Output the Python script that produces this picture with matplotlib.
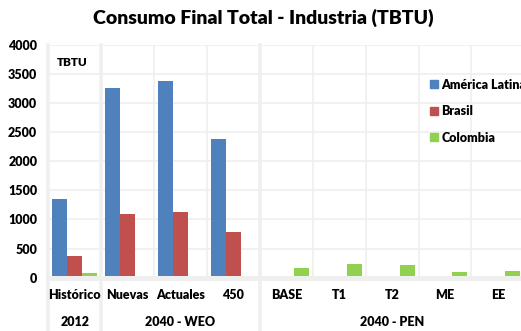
import numpy as np
import matplotlib.pyplot as plt
from matplotlib.patches import Patch

plt.rcParams['font.family'] = ['Lato', 'DejaVu Sans']
plt.rcParams['font.weight'] = 'heavy'

# escenarios y grupos del eje x
categorias = ['Histórico', 'Nuevas', 'Actuales', '450', 'BASE', 'T1', 'T2', 'ME', 'EE']
grupos = ['2012', '2040 - WEO', '2040 - PEN']
grupo_tam = [1, 3, 5]

# consumo final industria (TBTU)
america_latina = [1360, 3270, 3390, 2380, 0, 0, 0, 0, 0]
brasil = [365, 1100, 1130, 790, 0, 0, 0, 0, 0]
colombia = [85, 0, 0, 0, 160, 230, 215, 100, 115]

series = [('América Latina', america_latina, '#4F81BD'),
          ('Brasil', brasil, '#C0504D'),
          ('Colombia', colombia, '#92D050')]

gris = '#efefef'

fig = plt.figure(figsize=(5.21, 3.31), dpi=100)
ax = fig.add_axes([48.3/521, 53.4/331, 476/521, 232.5/331])

x = np.arange(len(categorias))
w = 0.284
for k, (nombre, vals, col) in enumerate(series):
    ax.bar(x + (k - 1)*w, vals, w, color=col, zorder=2)

ax.set_xlim(-0.5, len(categorias) - 0.5)
ax.set_ylim(0, 4000)
ax.set_yticks(np.arange(0, 4001, 500))
ax.tick_params(axis='y', length=0, pad=8, labelsize=9)
ax.set_xticks([])
for s in ax.spines.values():
    s.set_visible(False)

# rejilla
for yv in np.arange(500, 4001, 500):
    ax.axhline(yv, color=gris, lw=1.2, zorder=1)
for xv in np.arange(0.5, len(categorias) - 0.5, 1):
    ax.axvline(xv, color=gris, lw=1.2, zorder=1)

# eje horizontal y separadores de grupo
ax.axhline(0, color=gris, lw=3.6, zorder=3, clip_on=False)
bordes = np.concatenate([[0], np.cumsum(grupo_tam)]) - 0.5
for b in bordes[:-1]:
    ax.plot([b, b], [1, -0.23], color=gris, lw=2.6, transform=ax.get_xaxis_transform(),
            clip_on=False, zorder=3)

# etiquetas de categoria y de grupo
for i, c in enumerate(categorias):
    ax.text(i, -0.075, c, transform=ax.get_xaxis_transform(), ha='center', va='center',
            fontsize=9)
for g, a, b in zip(grupos, bordes[:-1], bordes[1:]):
    ax.text((a + b)/2, -0.19, g, transform=ax.get_xaxis_transform(), ha='center',
            va='center', fontsize=9)

ax.text(0.018, 0.927, 'TBTU', transform=ax.transAxes, ha='left', va='center', fontsize=8.5)

handles = [Patch(color=col, label=nombre) for nombre, vals, col in series]
ax.legend(handles=handles, loc='upper left', bbox_to_anchor=(0.802, 0.856), frameon=False,
          fontsize=9, handlelength=0.62, handleheight=0.62, handletextpad=0.3,
          labelspacing=1.17, borderpad=0, borderaxespad=0)

fig.text(0.505, 0.946, 'Consumo Final Total - Industria (TBTU)', ha='center', va='center',
         fontsize=14, fontweight='heavy')

fig.savefig('out.png', dpi=100)
